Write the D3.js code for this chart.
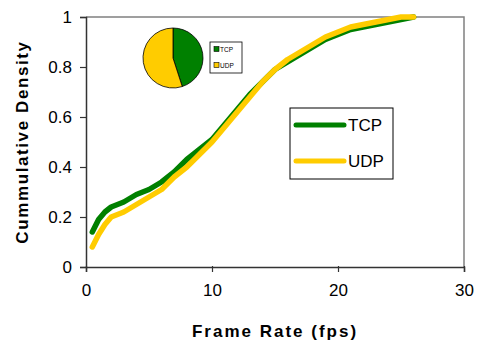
<!DOCTYPE html>
<html>
<head>
<meta charset="utf-8">
<script src="https://cdn.jsdelivr.net/npm/d3@7"></script>
<style>
  body { margin: 0; background: #fff; }
  svg { display: block; font-family: "Liberation Sans", Arial, sans-serif; }
</style>
</head>
<body>
<div id="viz"></div>
<script>

/* frame rate CDF, TCP vs UDP */

// frame rate (fps) sample points
const tcpRate = [0.5, 1, 1.5, 2, 3, 4, 5, 6, 7, 8, 9, 10, 11, 12, 13, 14, 15, 16, 17, 18, 19, 20, 21, 22, 23, 24, 25, 26];
const tcpCdf  = [0.14, 0.19, 0.22, 0.24, 0.26, 0.29, 0.31, 0.34, 0.38, 0.43, 0.47, 0.51, 0.57, 0.63, 0.69, 0.74, 0.79, 0.82, 0.85, 0.88, 0.91, 0.93, 0.95, 0.96, 0.97, 0.98, 0.99, 1.0];

const udpRate = [0.5, 1, 1.5, 2, 3, 4, 5, 6, 7, 8, 9, 10, 11, 12, 13, 14, 15, 16, 17, 18, 19, 20, 21, 22, 23, 24, 25, 26];
const udpCdf  = [0.08, 0.13, 0.17, 0.20, 0.22, 0.25, 0.28, 0.31, 0.36, 0.40, 0.45, 0.50, 0.56, 0.62, 0.68, 0.74, 0.79, 0.83, 0.86, 0.89, 0.92, 0.94, 0.96, 0.97, 0.98, 0.99, 1.0, 1.0];

// share of flows (inset pie)
const pieLabels = ["TCP", "UDP"];
const pieShare  = [45, 55];

const xTicks = [0, 10, 20, 30];
const yTicks = [0, 0.2, 0.4, 0.6, 0.8, 1];

const colors = { TCP: "#008000", UDP: "#ffcc00" };

const W = 477, H = 348;
const margin = { top: 17, right: 13, bottom: 81, left: 86 };
const width = W - margin.left - margin.right,
      height = H - margin.top - margin.bottom;

const svg = d3.select("#viz").append("svg")
    .attr("width", W)
    .attr("height", H);

const g = svg.append("g")
    .attr("transform", `translate(${margin.left},${margin.top})`);

const x = d3.scaleLinear([0, 30], [0, width]);
const y = d3.scaleLinear([0, 1], [height, 0]);

// gray frame on top and right
g.append("path")
    .attr("d", `M0,0H${width}V${height}`)
    .attr("fill", "none")
    .attr("stroke", "#808080")
    .attr("stroke-width", 1.5);

// axes
const axX = g.append("g")
    .attr("transform", `translate(0,${height})`)
    .call(d3.axisBottom(x).tickValues(xTicks).tickSize(5).tickPadding(12).tickFormat(d3.format("d")));
const axY = g.append("g")
    .call(d3.axisLeft(y).tickValues(yTicks).tickSize(6).tickPadding(8).tickFormat(d => d));

[axX, axY].forEach(a => {
    a.select(".domain").attr("stroke", "#333").attr("stroke-width", 1.5);
    a.selectAll(".tick line").attr("stroke", "#333").attr("stroke-width", 1.2);
    a.selectAll("text").attr("font-size", 17).attr("fill", "#000")
        .attr("font-family", "'Liberation Sans', Arial, sans-serif");
});
axX.selectAll(".tick line").attr("y1", -1);

// curves
const line = d3.line().x(d => x(d[0])).y(d => y(d[1]));
const series = [
    { name: "TCP", pts: d3.zip(tcpRate, tcpCdf) },
    { name: "UDP", pts: d3.zip(udpRate, udpCdf) }
];
series.forEach(s => {
    g.append("path")
        .datum(s.pts)
        .attr("d", line)
        .attr("fill", "none")
        .attr("stroke", colors[s.name])
        .attr("stroke-width", 5.5)
        .attr("stroke-linejoin", "round")
        .attr("stroke-linecap", "round");
});

// axis titles
svg.append("text")
    .attr("x", 275).attr("y", 337)
    .attr("text-anchor", "middle")
    .attr("font-size", 17).attr("font-weight", "bold")
    .attr("letter-spacing", 2)
    .text("Frame Rate (fps)");

svg.append("text")
    .attr("transform", "translate(28,142) rotate(-90)")
    .attr("text-anchor", "middle")
    .attr("font-size", 17).attr("font-weight", "bold")
    .attr("letter-spacing", 1.6)
    .text("Cummulative Density");

// main legend
const leg = svg.append("g").attr("transform", "translate(290,108)");
leg.append("rect")
    .attr("width", 103).attr("height", 71)
    .attr("fill", "#fff").attr("stroke", "#000").attr("stroke-width", 1);
series.forEach((s, i) => {
    const ly = 17 + i * 36;
    leg.append("line")
        .attr("x1", 6).attr("x2", 54).attr("y1", ly).attr("y2", ly)
        .attr("stroke", colors[s.name]).attr("stroke-width", 5)
        .attr("stroke-linecap", "round");
    leg.append("text")
        .attr("x", 58).attr("y", ly + 6)
        .attr("font-size", 17)
        .text(s.name);
});

// inset pie
const pie = d3.pie().sort(null)(pieShare);
const arc = d3.arc().innerRadius(0).outerRadius(30);
const pg = svg.append("g").attr("transform", "translate(173,58)");
pg.selectAll("path")
    .data(pie)
    .join("path")
    .attr("d", arc)
    .attr("fill", (d, i) => colors[pieLabels[i]])
    .attr("stroke", "#000").attr("stroke-width", 0.8);

const pl = svg.append("g").attr("transform", "translate(210,42)");
pl.append("rect")
    .attr("width", 32).attr("height", 31)
    .attr("fill", "#fff").attr("stroke", "#000").attr("stroke-width", 0.8);
pieLabels.forEach((name, i) => {
    const ly = 7 + i * 16;
    pl.append("rect")
        .attr("x", 4).attr("y", ly - 2.5).attr("width", 5).attr("height", 5)
        .attr("fill", colors[name]).attr("stroke", "#000").attr("stroke-width", 0.6);
    pl.append("text")
        .attr("x", 10).attr("y", ly + 2.5)
        .attr("font-size", 6.5)
        .text(name);
});

</script>
</body>
</html>
